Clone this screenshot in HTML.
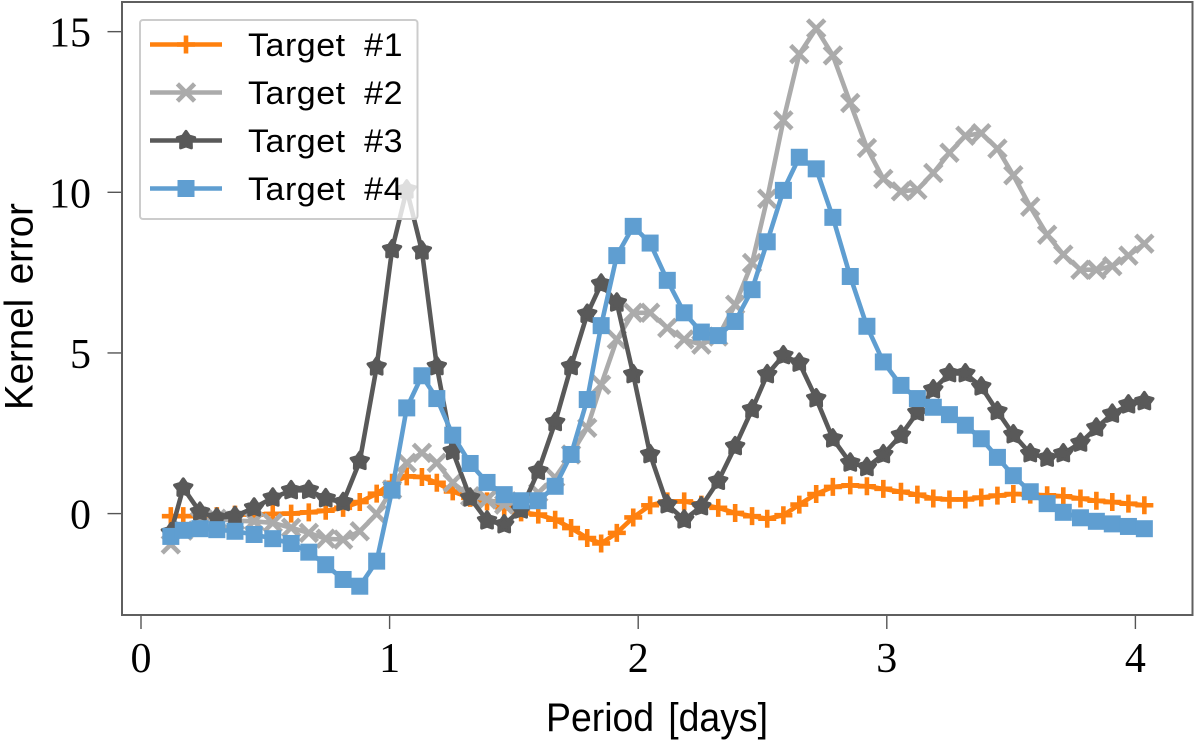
<!DOCTYPE html>
<html lang="en">
<head>
<meta charset="utf-8">
<title>Kernel error vs period</title>
<style>
html,body{margin:0;padding:0;background:#fff;}
body{width:1200px;height:748px;overflow:hidden;}
svg{display:block;}
.tick-label{font-family:"Liberation Serif",serif;font-size:42px;fill:#000;}
.axis-title{font-family:"Liberation Sans",sans-serif;font-size:40px;fill:#000;word-spacing:4px;}
.legend-text{font-family:"Liberation Sans",sans-serif;font-size:32px;fill:#000;word-spacing:8px;letter-spacing:0.5px;}
</style>
</head>
<body>
<svg id="chart" xmlns="http://www.w3.org/2000/svg" width="1200" height="748" viewBox="0 0 1200 748"></svg>
<script>
const periods = [0.12,0.17,0.237,0.305,0.378,0.455,0.53,0.604,0.675,0.743,0.813,0.88,0.948,1.01,1.069,1.13,1.19,1.254,1.324,1.392,1.461,1.529,1.598,1.666,1.73,1.795,1.851,1.914,1.98,2.048,2.117,2.185,2.254,2.322,2.39,2.458,2.519,2.584,2.648,2.716,2.783,2.853,2.92,2.986,3.057,3.123,3.187,3.252,3.316,3.38,3.445,3.509,3.577,3.645,3.71,3.779,3.843,3.907,3.972,4.036];
const target1 = [-0.08,-0.08,-0.08,-0.08,-0.03,-0.03,-0.01,0,0.04,0.09,0.18,0.36,0.62,0.96,1.16,1.14,0.96,0.69,0.49,0.38,0.19,0.04,-0.03,-0.19,-0.45,-0.76,-0.93,-0.60,-0.12,0.26,0.38,0.38,0.28,0.18,0.02,-0.08,-0.16,-0.05,0.28,0.61,0.83,0.88,0.85,0.77,0.68,0.59,0.47,0.44,0.44,0.50,0.56,0.61,0.59,0.57,0.54,0.47,0.40,0.36,0.31,0.26];
const target2 = [-0.96,-0.53,-0.22,-0.16,-0.22,-0.24,-0.29,-0.44,-0.60,-0.78,-0.81,-0.55,-0.01,0.75,1.58,1.89,1.58,0.96,0.54,0.44,0.28,0.38,0.65,1.12,1.84,2.67,4.01,5.42,6.25,6.25,5.78,5.42,5.26,5.51,6.50,7.80,9.80,12.24,14.30,15.10,14.26,12.78,11.38,10.42,10.03,10.08,10.60,11.23,11.76,11.84,11.36,10.53,9.55,8.68,8.06,7.59,7.59,7.70,8.03,8.40];
const target3 = [-0.59,0.80,0.05,-0.13,-0.08,0.18,0.49,0.72,0.73,0.47,0.35,1.63,4.57,8.22,10.08,8.18,4.58,1.94,0.49,-0.22,-0.34,0.12,1.32,2.84,4.58,6.21,7.15,6.56,4.33,1.84,0.28,-0.19,0.22,1.01,2.09,3.24,4.33,4.92,4.69,3.58,2.33,1.58,1.44,1.84,2.44,3.15,3.86,4.36,4.36,3.95,3.18,2.46,1.87,1.73,1.87,2.20,2.67,3.10,3.39,3.49];
const target4 = [-0.71,-0.52,-0.47,-0.50,-0.55,-0.65,-0.78,-0.93,-1.20,-1.59,-2.05,-2.26,-1.48,0.73,3.29,4.29,3.58,2.44,1.56,0.97,0.59,0.40,0.40,0.85,1.84,3.55,5.85,8.03,8.94,8.42,7.26,6.25,5.65,5.54,5.98,6.97,8.46,10.06,11.09,10.73,9.22,7.38,5.83,4.72,3.99,3.58,3.31,3.08,2.75,2.33,1.75,1.18,0.68,0.31,0.04,-0.13,-0.24,-0.32,-0.40,-0.47];
const seriesLabels = ["Target #1","Target #2","Target #3","Target #4"];
const xTicks = [0,1,2,3,4];
const yTicks = [0,5,10,15];
const xTitle = "Period [days]";
const yTitle = "Kernel error";

const NS = "http://www.w3.org/2000/svg";
const svg = document.getElementById("chart");
const xScale = v => 141 + v * 248.6;
const yScale = v => 513.6 - v * 32.13;

function make(tag, attrs, parent) {
  const el = document.createElementNS(NS, tag);
  for (const k in attrs) el.setAttribute(k, attrs[k]);
  (parent || svg).appendChild(el);
  return el;
}

function drawMarker(kind, color, cx, cy, parent) {
  let m;
  if (kind === "plus") {
    m = make("path", {d:`M${cx-9} ${cy}H${cx+9}M${cx} ${cy-9}V${cy+9}`, stroke:color, "stroke-width":4.6, fill:"none"}, parent);
  } else if (kind === "cross") {
    m = make("path", {d:`M${cx-8.6} ${cy-8.6}L${cx+8.6} ${cy+8.6}M${cx-8.6} ${cy+8.6}L${cx+8.6} ${cy-8.6}`, stroke:color, "stroke-width":4.6, fill:"none"}, parent);
  } else if (kind === "star") {
    const pts = [];
    for (let i = 0; i < 10; i++) {
      const r = i % 2 ? 5.4 : 9;
      const a = -Math.PI / 2 + i * Math.PI / 5;
      pts.push((cx + r * Math.cos(a)).toFixed(2) + "," + (cy + r * Math.sin(a)).toFixed(2));
    }
    m = make("polygon", {points:pts.join(" "), fill:color, stroke:color, "stroke-width":3.2, "stroke-linejoin":"round"}, parent);
  } else {
    m = make("rect", {x:cx-8.5, y:cy-8.5, width:17, height:17, fill:color}, parent);
  }
  
  
}

function drawSeries(values, color, kind, name) {
  const g = make("g", {});
  
  
  const pts = values.map((v, i) => xScale(periods[i]).toFixed(2) + "," + yScale(v).toFixed(2)).join(" ");
  const line = make("polyline", {points:pts, fill:"none", stroke:color, "stroke-width":4.6, "stroke-linejoin":"round"}, g);
  
  
  values.forEach((v, i) => drawMarker(kind, color, xScale(periods[i]), yScale(v), g));
}

const axisColor = "#5f5f5f";

const bg = make("rect", {x:122, y:2, width:1070.5, height:613, fill:"#fff"});



const xAxis = make("g", {});


xTicks.forEach(t => {
  const tick = make("line", {x1:xScale(t), x2:xScale(t), y1:615, y2:629, stroke:"#555", "stroke-width":1.4}, xAxis);
  
  
  const lab = make("text", {x:xScale(t), y:672, "text-anchor":"middle", class:"tick-label"}, xAxis);
  lab.textContent = t;
  
  
});

const yAxis = make("g", {});


yTicks.forEach(t => {
  const tick = make("line", {x1:107.5, x2:122, y1:yScale(t), y2:yScale(t), stroke:"#555", "stroke-width":1.4}, yAxis);
  
  
  const lab = make("text", {x:91, y:yScale(t) + 15, "text-anchor":"end", class:"tick-label"}, yAxis);
  lab.textContent = t;
  
  
});

drawSeries(target1, "#ff800e", "plus", "series-target-1");
drawSeries(target2, "#ababab", "cross", "series-target-2");
drawSeries(target3, "#595959", "star", "series-target-3");
drawSeries(target4, "#5f9ed1", "square", "series-target-4");

const frame = make("rect", {x:122, y:2, width:1070.5, height:613, fill:"none", stroke:axisColor, "stroke-width":2});



const xt = make("text", {x:657, y:731, "text-anchor":"middle", class:"axis-title", textLength:222, lengthAdjust:"spacingAndGlyphs"});
xt.textContent = xTitle;



const yt = make("text", {x:0, y:0, "text-anchor":"middle", class:"axis-title", textLength:207, lengthAdjust:"spacingAndGlyphs", transform:"translate(32.7,306.5) rotate(-90)"});
yt.textContent = yTitle;



const legend = make("g", {});


const legendBox = make("rect", {x:140, y:20, width:277.5, height:199, rx:3, ry:3, fill:"#fff", "fill-opacity":0.8, stroke:"#cccccc", "stroke-width":2}, legend);


const legendColors = ["#ff800e","#ababab","#595959","#5f9ed1"];
const legendKinds = ["plus","cross","star","square"];
seriesLabels.forEach((label, i) => {
  const row = make("g", {}, legend);
  
  
  const ly = 44.5 + i * 48;
  const ll = make("line", {x1:150, x2:222, y1:ly, y2:ly, stroke:legendColors[i], "stroke-width":4.6}, row);
  
  
  drawMarker(legendKinds[i], legendColors[i], 186, ly, row);
  const txt = make("text", {x:248, y:ly + 11.5, class:"legend-text", textLength:155, lengthAdjust:"spacingAndGlyphs"}, row);
  txt.textContent = label;
  
  
});
</script>
</body>
</html>
